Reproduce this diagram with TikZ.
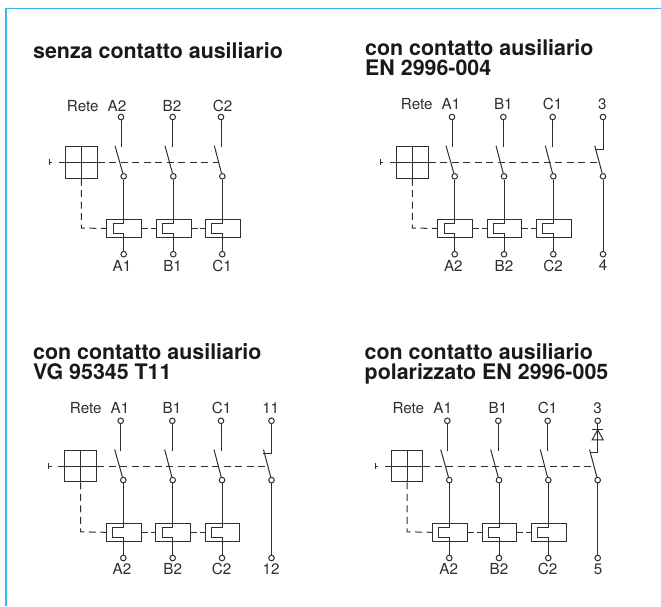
\documentclass[tikz,border=0pt]{standalone}
\usepackage{fontspec}
\setmainfont{TeX Gyre Heros}
\definecolor{ink}{HTML}{2E2E2E}
\definecolor{frameblue}{HTML}{35B8EC}
\tikzset{
 wire/.style={draw=ink,line width=1pt},
 link/.style={draw=ink,line width=1pt,dash pattern=on 7pt off 4.5pt},
 term/.style={circle,draw=ink,fill=white,line width=1pt,inner sep=0pt,minimum size=5.6pt},
 lab/.style={text=ink,font=\fontsize{15.2}{16}\selectfont,inner sep=0pt,anchor=center},
 ttl/.style={text=black!90,font=\fontsize{21.4}{22}\selectfont\bfseries,inner sep=0pt,anchor=base west,align=left},
 relaybox/.style={draw=ink,line width=1pt,inner sep=0pt,minimum width=34.7pt,minimum height=17.4pt},
}
\newcommand{\pole}[9]{%
 % #1 name, #2 top x, #3 pole x, #4 blade x, #5 top-label x, #6 bottom-label x, #7 top label, #8 bottom label, #9 y origin
 \begin{scope}[yshift=-#9pt]
 \node[lab] (#1tl) at (#5,\toply) {#7};
 \node[term] (#1t) at (#2,117) {};
 \coordinate (#1te) at (#2,147);
 \draw[wire] (#1t) -- (#1te);
 \coordinate (#1bt) at (#4,145.7);
 \node[term] (#1m) at (#3,176.3) {};
 \draw[wire] (#1bt) -- (#1m);
 \node[term] (#1b) at (#3,254.2) {};
 \node[lab] (#1bl) at (#6,265.5) {#8};
 \end{scope}}
\newcommand{\relay}[4]{%
 % #1 name, #2 pole name, #3 pole x, #4 y origin
 \begin{scope}[yshift=-#4pt]
 \node[relaybox,anchor=north west] (#1box) at (#3-17.4,219.3) {};
 \coordinate (#1a) at (#3,223.3);
 \coordinate (#1c) at (#3-10.4,223.3);
 \coordinate (#1d) at (#3-10.4,233.7);
 \coordinate (#1e) at (#3,233.7);
 \draw[wire] (#2m) -- (#1a) -- (#1c) -- (#1d) -- (#1e) -- (#2b);
 \end{scope}}
\newcommand{\rete}[6]{%
 % #1 name, #2 square centre x, #3 y origin, #4 first relay name, #5 Rete x, #6 end of dashed x
 \begin{scope}[yshift=-#3pt]
 \node[lab] (#1rete) at (#5,\toply) {Rete};
 \node[draw=ink,line width=1pt,inner sep=0pt,minimum size=31.7pt] (#1sq) at (#2,162.3) {};
 \draw[wire] (#1sq.north) -- (#1sq.south);
 \draw[wire] (#1sq.west) -- (#1sq.east);
 \coordinate (#1tick) at (#2-32,162.3);
 \coordinate (#1corner) at (#2,228);
 \coordinate (#1end) at (#6,162.3);
 \draw[wire] (#2-32,159.3) -- (#2-32,165.3);
 \draw[wire] (#1tick) -- ++(3,0);
 \draw[wire] (#1sq.west) -- ++(-6,0);
 \draw[link] (#1sq.east) -- (#1end);
 \draw[link] (#1sq.south) -- (#1corner) -- (#4box.west);
 \end{scope}}
\newcommand{\relaylink}[2]{%
 \draw[wire] (#1box.east) -- ++(6,0);
 \draw[wire] (#2box.west) -- ++(-4.5,0);}
\newcommand{\auxhook}[3]{%
 % #1 pole name, #2 pole x (top), #3 y origin
 \begin{scope}[yshift=-#3pt]
 \coordinate (#1k1) at (#2,149.5);
 \coordinate (#1k2) at (#2-8.5,149.5);
 \draw[wire] (#1t) -- (#1k1) -- (#1k2);
 \draw[wire] (#1m) -- (#1b);
 \end{scope}}
\begin{document}
\begin{tikzpicture}[x=1pt,y=-1pt]
\useasboundingbox (0,0) rectangle (661,606);
\draw[frameblue,line width=1.4pt] (661,8.3) -- (6,8.3) -- (6,606);

% Panel 1
\def\toply{105.7}
\node[ttl] (t1) at (33,58) {senza contatto ausiliario};
\pole{aa}{121}{123.7}{115}{117}{122}{A2}{A1}{0}
\pole{ab}{172.7}{173.3}{165}{172}{172.6}{B2}{B1}{0}
\pole{ac}{221}{222.3}{214.3}{222.7}{222}{C2}{C1}{0}
\relay{ara}{aa}{123.7}{0}
\relay{arb}{ab}{173.3}{0}
\relay{arc}{ac}{222.3}{0}
\rete{a}{81.3}{0}{ara}{82.7}{218.6}
\relaylink{ara}{arb}\relaylink{arb}{arc}

% Panel 2
\def\toply{104}
\node[ttl] (t2) at (365,55) {con contatto ausiliario};
\node[ttl] (t2b) at (365,75.5) {EN 2996-004};
\pole{ba}{452}{454.7}{446}{451}{453.3}{A1}{A2}{0}
\pole{bb}{503.3}{504}{496}{503.3}{504}{B1}{B2}{0}
\pole{bc}{552.7}{553.3}{545.3}{552.7}{553}{C1}{C2}{0}
\pole{bd}{603}{603}{594.7}{602.3}{603}{3}{4}{0}
\relay{bra}{ba}{454.7}{0}
\relay{brb}{bb}{504}{0}
\relay{brc}{bc}{553.3}{0}
\rete{b}{412.3}{0}{bra}{416.7}{599}
\relaylink{bra}{brb}\relaylink{brb}{brc}
\auxhook{bd}{603}{0}

% Panel 3
\def\toply{104.2}
\node[ttl] (t3) at (33,359.3) {con contatto ausiliario};
\node[ttl] (t3b) at (33,379.7) {VG 95345 T11};
\pole{ca}{120.7}{123.3}{114.7}{120}{122}{A1}{A2}{303.8}
\pole{cb}{172.3}{172.7}{164.7}{172}{172.7}{B1}{B2}{303.8}
\pole{cc}{221}{222}{214}{221.7}{221.7}{C1}{C2}{303.8}
\pole{cd}{271.5}{271.5}{263.5}{270.7}{271}{11}{12}{303.8}
\relay{cra}{ca}{123.3}{303.8}
\relay{crb}{cb}{172.7}{303.8}
\relay{crc}{cc}{222}{303.8}
\rete{c}{80.7}{303.8}{cra}{85.7}{267.5}
\relaylink{cra}{crb}\relaylink{crb}{crc}
\auxhook{cd}{271.5}{303.8}

% Panel 4
\node[ttl] (t4) at (364.5,359.3) {con contatto ausiliario};
\node[ttl] (t4b) at (364.5,379.7) {polarizzato EN 2996-005};
\pole{da}{447.3}{449.3}{440.7}{442.7}{448.7}{A1}{A2}{303.8}
\pole{db}{498.3}{499}{490.7}{498}{499}{B1}{B2}{303.8}
\pole{dc}{547.7}{548.3}{540.3}{547.7}{547.7}{C1}{C2}{303.8}
\pole{dd}{597.7}{597.7}{589.5}{597.7}{598}{3}{5}{303.8}
\relay{dra}{da}{449.3}{303.8}
\relay{drb}{db}{499}{303.8}
\relay{drc}{dc}{548.3}{303.8}
\rete{d}{407}{303.8}{dra}{408.3}{593.7}
\relaylink{dra}{drb}\relaylink{drb}{drc}
\draw[wire] (ddm) -- (ddb);
% polarising diode of panel 4
\coordinate (dapex) at (597.7,429.8);
\coordinate (dbl) at (592.2,439.8);
\coordinate (dbr) at (603.2,439.8);
\coordinate (dbarl) at (592.2,429.8);
\coordinate (dbarr) at (603.2,429.8);
\coordinate (dbase) at (597.7,439.8);
\coordinate (dk1) at (597.7,452.8);
\coordinate (dk2) at (589.5,452.8);
\draw[wire] (ddt) -- (dapex);
\draw[wire] (dbarl) -- (dbarr);
\draw[wire] (dapex) -- (dbl) -- (dbr) -- cycle;
\draw[wire] (dbase) -- (dk1) -- (dk2);
\end{tikzpicture}
\end{document}
